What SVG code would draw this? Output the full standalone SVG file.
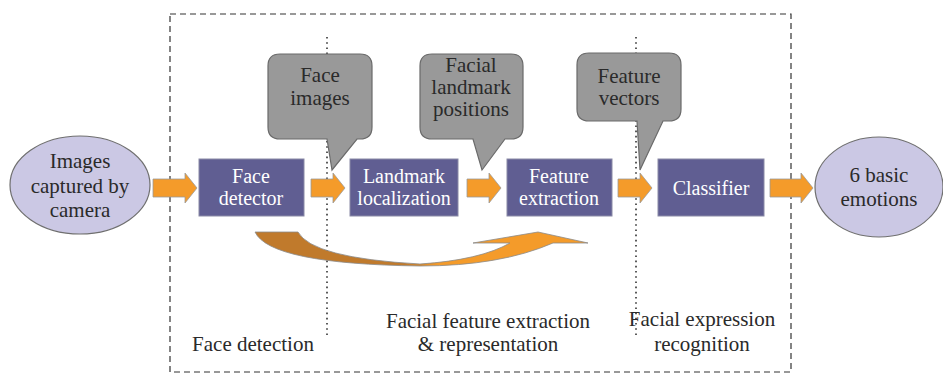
<svg xmlns="http://www.w3.org/2000/svg" width="943" height="383" viewBox="0 0 943 383">
<defs>
<style>
.t{font-size:21px;text-anchor:middle;fill:#2a2a2a}
.w{font-size:20px;text-anchor:middle;fill:#ffffff}
.box{fill:#605e92;stroke:#8a8aa6;stroke-width:1}
.ell{fill:#cbc8e4;stroke:#6f6f6f;stroke-width:1.2}
.call{fill:#999999;stroke:#6a6a6a;stroke-width:1.2}
.arr{fill:#f49b2a;stroke:#9a9a9a;stroke-width:0.8}
.dot{stroke:#333;stroke-width:1.6;stroke-dasharray:1.6 3.6;fill:none}
</style>
<linearGradient id="cg" x1="255" y1="0" x2="588" y2="0" gradientUnits="userSpaceOnUse">
<stop offset="0" stop-color="#c07a2c"/>
<stop offset="0.45" stop-color="#c07a2c"/>
<stop offset="0.55" stop-color="#f49b2a"/>
<stop offset="1" stop-color="#f49b2a"/>
</linearGradient>
</defs>
<rect x="0" y="0" width="943" height="383" fill="#ffffff"/>
<rect x="170" y="14" width="621" height="358" fill="none" stroke="#333" stroke-width="1.2" stroke-dasharray="6 4"/>
<g id="dividers">
<line class="dot" x1="327" y1="37" x2="327" y2="335"/>
<line class="dot" x1="636" y1="37" x2="636" y2="335"/>
</g>
<g id="connectors">
<polygon class="arr" points="153,179 185,179 185,173 197,188 185,203 185,197 153,197"/>
<polygon class="arr" points="311,179 333,179 333,173 345,188 333,203 333,197 311,197"/>
<polygon class="arr" points="467,179 489,179 489,173 501,188 489,203 489,197 467,197"/>
<polygon class="arr" points="618,179 640,179 640,173 652,188 640,203 640,197 618,197"/>
<polygon class="arr" points="770,179 801,179 801,173 813,188 801,203 801,197 770,197"/>
<path d="M255,232 L298,232 Q312,258 420,264 Q480,260 510,243 L473,243 L538,232 L588,243 L553,243 Q500,266 420,266 Q270,264 255,232 Z" fill="url(#cg)" stroke="#8a8a8a" stroke-width="0.8"/>
</g>
<g font-family="Liberation Serif, Times New Roman, serif">
<g id="input">
<ellipse class="ell" cx="80" cy="185" rx="70" ry="49"/>
<text class="t" x="80" y="168">Images</text>
<text class="t" x="80" y="193">captured by</text>
<text class="t" x="80" y="217">camera</text>
</g>
<g id="face-detector">
<rect class="box" x="199" y="159" width="105" height="57"/>
<text class="w" x="251" y="183">Face</text>
<text class="w" x="251" y="205">detector</text>
</g>
<g id="landmark-localization">
<rect class="box" x="350" y="159" width="108" height="57"/>
<text class="w" x="404" y="183">Landmark</text>
<text class="w" x="404" y="205">localization</text>
</g>
<g id="feature-extraction">
<rect class="box" x="507" y="159" width="105" height="57"/>
<text class="w" x="559" y="183">Feature</text>
<text class="w" x="559" y="205">extraction</text>
</g>
<g id="classifier">
<rect class="box" x="658" y="159" width="106" height="57"/>
<text class="w" x="711" y="195">Classifier</text>
</g>
<g id="output">
<ellipse class="ell" cx="879" cy="187" rx="64" ry="50"/>
<text class="t" x="879" y="182">6 basic</text>
<text class="t" x="879" y="206">emotions</text>
</g>
<g id="callout-face-images">
<path class="call" d="M280,54 L360,54 Q372,54 372,66 L372,127 Q372,139 360,139 L357,139 L332,170 L327,139 L280,139 Q268,139 268,127 L268,66 Q268,54 280,54 Z"/>
<text class="t" x="320" y="82">Face</text>
<text class="t" x="320" y="105">images</text>
</g>
<g id="callout-landmark-positions">
<path class="call" d="M432,54 L511,54 Q523,54 523,66 L523,127 Q523,139 511,139 L505,139 L482,170 L473,139 L432,139 Q420,139 420,127 L420,66 Q420,54 432,54 Z"/>
<text class="t" x="471" y="72">Facial</text>
<text class="t" x="471" y="94">landmark</text>
<text class="t" x="471" y="116">positions</text>
</g>
<g id="callout-feature-vectors">
<path class="call" d="M589,53 L669,53 Q681,53 681,65 L681,109 Q681,121 669,121 L663,121 L640,170 L637,121 L589,121 Q577,121 577,109 L577,65 Q577,53 589,53 Z"/>
<text class="t" x="629" y="83">Feature</text>
<text class="t" x="629" y="105">vectors</text>
</g>
<g id="stage-labels">
<text class="t" x="253" y="351">Face detection</text>
<text class="t" x="488" y="328">Facial feature extraction</text>
<text class="t" x="488" y="351">&amp; representation</text>
<text class="t" x="702" y="326">Facial expression</text>
<text class="t" x="702" y="351">recognition</text>
</g>
</g>
</svg>
